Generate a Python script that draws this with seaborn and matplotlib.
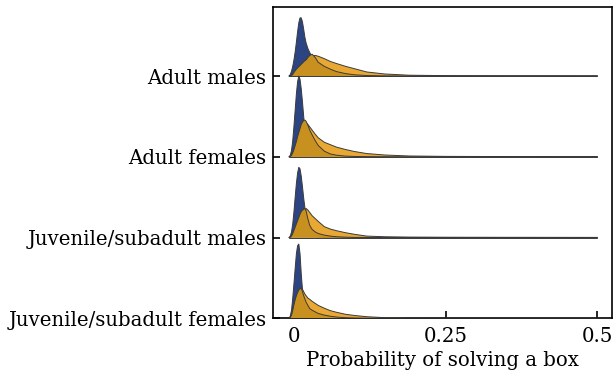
import numpy as np
import pandas as pd
import seaborn as sns
import matplotlib
matplotlib.use("Agg")
import matplotlib.pyplot as plt

categories = ["Adult males", "Adult females", "Juvenile/subadult males", "Juvenile/subadult females"]

x_grid = [-0.008, -0.006, -0.004, -0.002, 0.0, 0.002, 0.004, 0.006, 0.008, 0.010,
          0.012, 0.014, 0.016, 0.018, 0.020, 0.023, 0.026, 0.030, 0.035, 0.040,
          0.050, 0.060, 0.070, 0.085, 0.100, 0.120, 0.150, 0.190, 0.250, 0.350, 0.500]

# density heights (in row units) for the navy series
navy_am = [0.0, 0.02, 0.06, 0.12, 0.2, 0.3, 0.42, 0.55, 0.66, 0.72, 0.72, 0.67, 0.58, 0.48, 0.41, 0.34,
           0.29, 0.24, 0.17, 0.11, 0.05, 0.02, 0.01, 0, 0, 0, 0, 0, 0, 0, 0]
navy_af = [0.0, 0.02, 0.08, 0.2, 0.38, 0.58, 0.78, 0.93, 1.0, 0.96, 0.84, 0.68, 0.5, 0.36, 0.25, 0.14,
           0.08, 0.04, 0.015, 0.005, 0, 0, 0, 0, 0, 0, 0, 0, 0, 0, 0]
navy_jm = [0.0, 0.02, 0.07, 0.17, 0.32, 0.5, 0.67, 0.8, 0.87, 0.85, 0.76, 0.63, 0.49, 0.37, 0.27, 0.17,
           0.1, 0.05, 0.02, 0.007, 0, 0, 0, 0, 0, 0, 0, 0, 0, 0, 0]
navy_jf = [0.0, 0.03, 0.1, 0.25, 0.43, 0.62, 0.8, 0.9, 0.92, 0.8, 0.55, 0.36, 0.22, 0.13, 0.07, 0.03,
           0.012, 0.004, 0, 0, 0, 0, 0, 0, 0, 0, 0, 0, 0, 0, 0]

# light orange series
light_am = [0, 0, 0.003, 0.012, 0.03, 0.045, 0.06, 0.075, 0.09, 0.1, 0.115, 0.13, 0.145, 0.16, 0.17, 0.19,
            0.22, 0.245, 0.255, 0.245, 0.215, 0.18, 0.155, 0.12, 0.09, 0.05, 0.025, 0.01, 0.005, 0.003, 0.002]
light_af = [0, 0.003, 0.01, 0.03, 0.06, 0.1, 0.14, 0.19, 0.24, 0.29, 0.33, 0.37, 0.4, 0.42, 0.42, 0.4,
            0.37, 0.33, 0.28, 0.235, 0.18, 0.15, 0.12, 0.09, 0.065, 0.04, 0.022, 0.01, 0.005, 0.003, 0.002]
light_jm = [0, 0.003, 0.01, 0.03, 0.06, 0.09, 0.12, 0.16, 0.2, 0.24, 0.27, 0.29, 0.3, 0.33, 0.36, 0.34,
            0.31, 0.27, 0.235, 0.2, 0.135, 0.105, 0.085, 0.06, 0.04, 0.018, 0.01, 0.006, 0.004, 0.003, 0.002]
light_jf = [0, 0.005, 0.02, 0.06, 0.11, 0.16, 0.22, 0.27, 0.31, 0.34, 0.37, 0.36, 0.33, 0.3, 0.28, 0.25,
            0.235, 0.21, 0.185, 0.16, 0.125, 0.095, 0.075, 0.05, 0.035, 0.02, 0.008, 0.004, 0.002, 0.002, 0.001]

# dark orange series
dark_am = [0, 0, 0.005, 0.02, 0.045, 0.065, 0.085, 0.1, 0.115, 0.13, 0.145, 0.16, 0.175, 0.19, 0.2, 0.23,
           0.255, 0.27, 0.23, 0.17, 0.12, 0.085, 0.055, 0.03, 0.015, 0.006, 0.002, 0.001, 0, 0, 0]
dark_af = [0, 0.005, 0.02, 0.05, 0.09, 0.14, 0.19, 0.25, 0.3, 0.35, 0.4, 0.43, 0.45, 0.454, 0.44, 0.39,
           0.33, 0.27, 0.2, 0.14, 0.07, 0.035, 0.02, 0.008, 0.004, 0.002, 0.001, 0, 0, 0, 0]
dark_jm = [0, 0.005, 0.02, 0.05, 0.09, 0.13, 0.17, 0.21, 0.25, 0.29, 0.32, 0.34, 0.35, 0.36, 0.33, 0.23,
           0.15, 0.1, 0.07, 0.05, 0.03, 0.018, 0.01, 0.005, 0.002, 0.001, 0, 0, 0, 0, 0]
dark_jf = [0, 0.01, 0.04, 0.1, 0.17, 0.23, 0.28, 0.32, 0.35, 0.37, 0.37, 0.33, 0.28, 0.24, 0.2, 0.16,
           0.12, 0.1, 0.08, 0.06, 0.04, 0.026, 0.016, 0.008, 0.004, 0.002, 0, 0, 0, 0, 0]

navy = [navy_am, navy_af, navy_jm, navy_jf]
light = [light_am, light_af, light_jm, light_jf]
dark = [dark_am, dark_af, dark_jm, dark_jf]

xticks = [0, 0.25, 0.5]
xticklabels = ["0", "0.25", "0.5"]

sns.set_theme(style="ticks")
plt.rcParams["font.family"] = ["DejaVu Serif"]

fig = plt.figure(figsize=(6.13, 3.82), dpi=100)
ax = fig.add_axes([0.4459, 0.1667, 0.553, 0.814])

NAVY = "#2D4483"
LIGHT = "#E8A833"
DARK = "#C8901F"
EDGE = "#3a3a3a"

x = np.array(x_grid)
n = len(categories)
for i, cat in enumerate(categories):
    base = n - 1 - i
    z = 2 + i * 4
    for vals, col, dz in [(navy[i], NAVY, 0), (light[i], LIGHT, 1), (dark[i], DARK, 2)]:
        y = base + np.array(vals)
        ax.fill_between(x, base, y, facecolor=col, edgecolor="none", zorder=z + dz)
        sns.lineplot(x=x, y=y, ax=ax, color=EDGE, lw=0.7, zorder=z + dz + 0.1,
                     estimator=None, sort=False)
    ax.plot([x[0], x[-1]], [base, base], color=EDGE, lw=0.7, zorder=z + 3)

ax.set_xlim(-0.034, 0.5247)
ax.set_ylim(0, 3.85)
ax.set_yticks(list(range(n - 1, -1, -1)))
ax.set_yticklabels(categories)
ax.set_xticks(xticks)
ax.set_xticklabels(xticklabels)
ax.tick_params(axis="both", direction="in", length=5, width=1.2, labelsize=14.2,
               color="black", labelcolor="black")
ax.tick_params(axis="x", pad=6)
ax.tick_params(axis="y", pad=5)
for s in ax.spines.values():
    s.set_visible(True)
    s.set_color("black")
    s.set_linewidth(1.2)
ax.set_xlabel("Probability of solving a box", fontsize=14.2, color="black", labelpad=4)
ax.set_ylabel("")

fig.savefig("out.png", dpi=100)
